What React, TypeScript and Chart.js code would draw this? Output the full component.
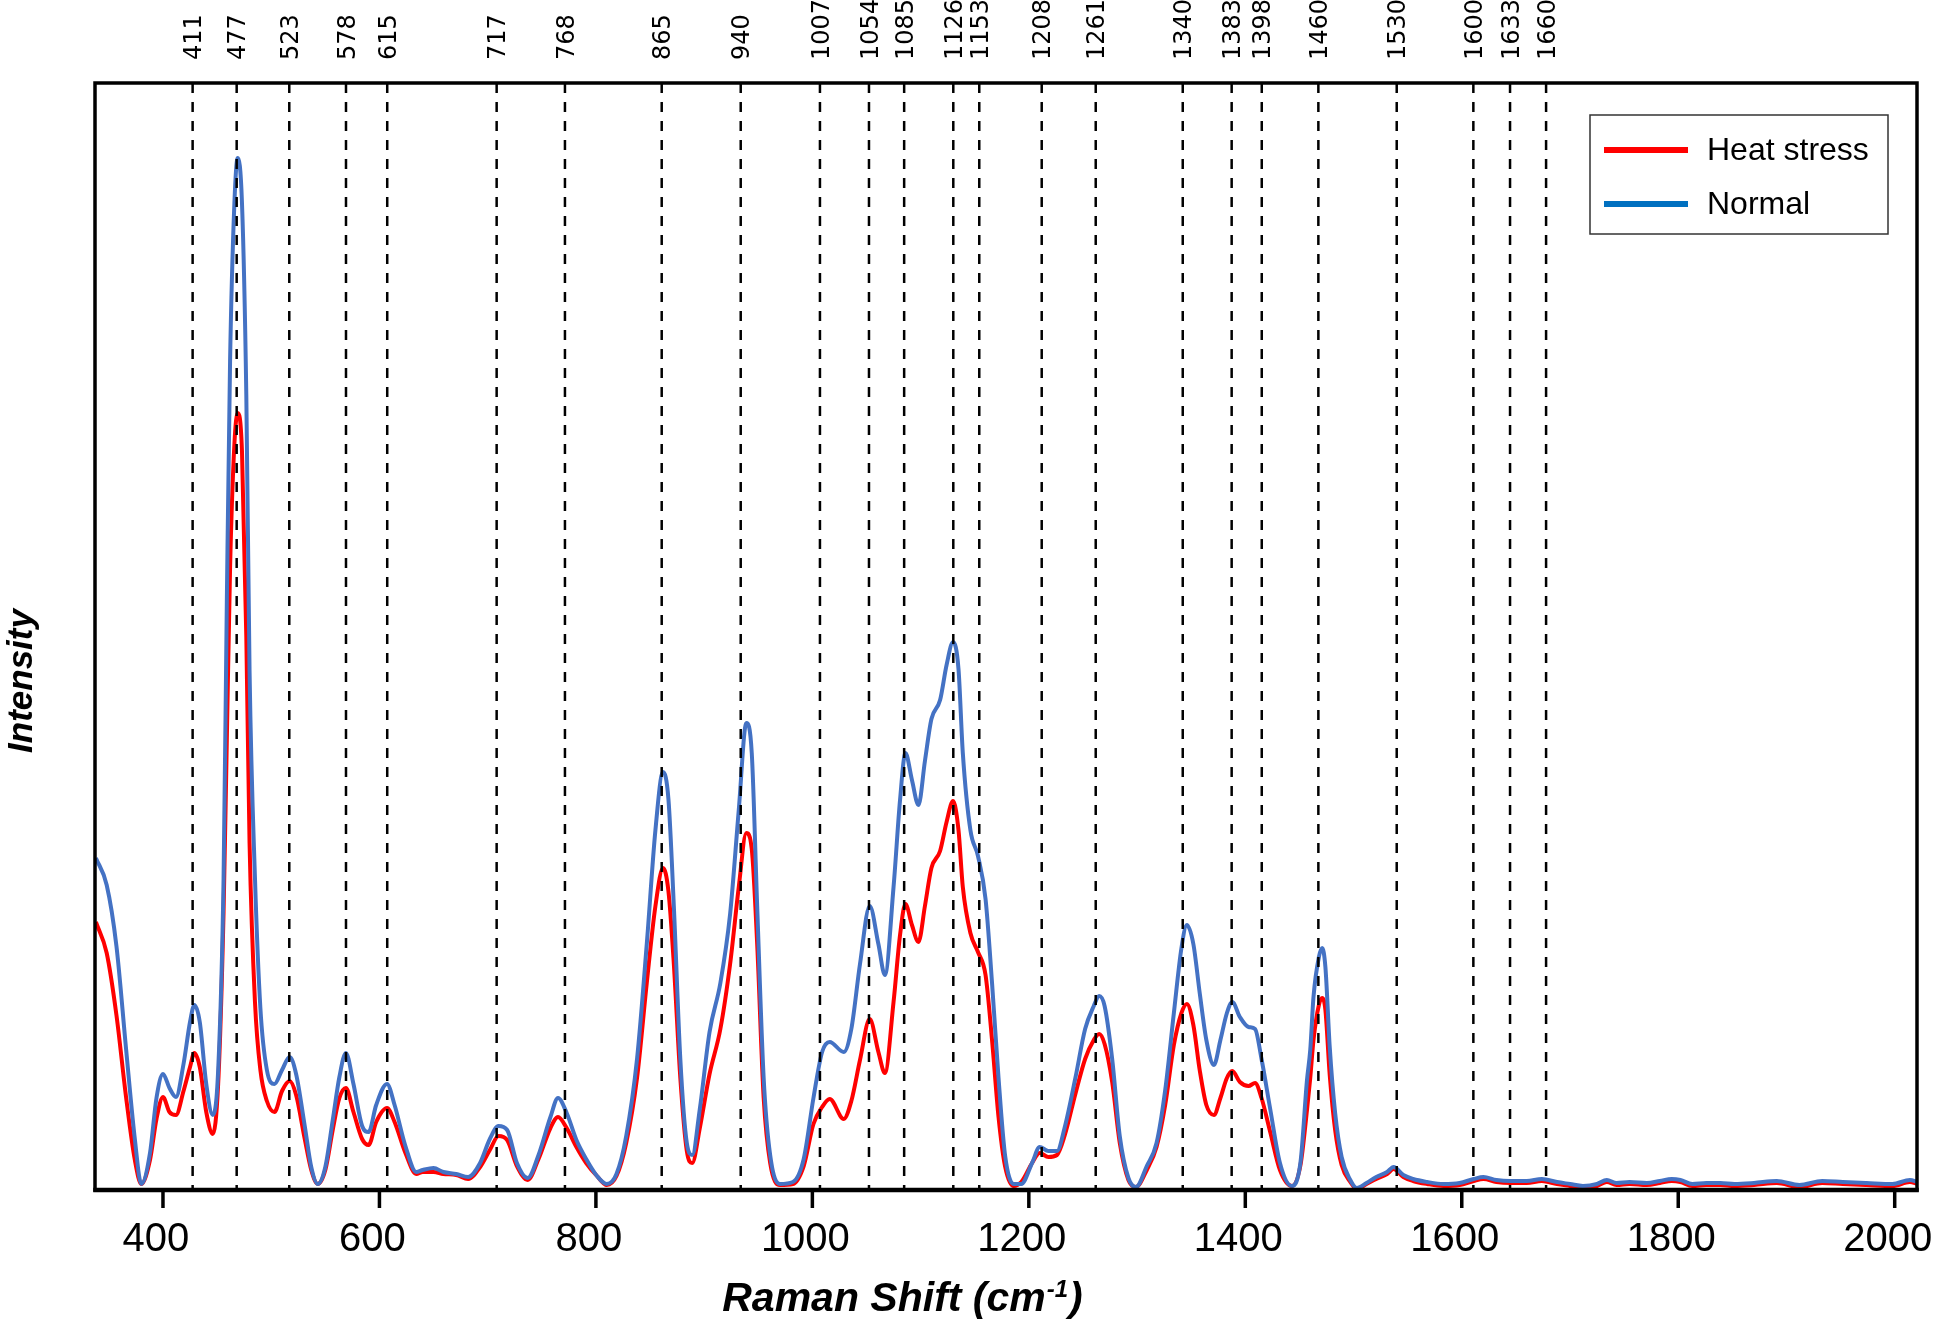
import React, { useEffect, useRef } from "react";
import { Chart, registerables } from "chart.js";

Chart.register(...registerables);

// Raman shift (cm-1) sampling points
const wavenumber = [
  338, 348, 357, 366, 374, 380, 388, 394, 400, 406, 412, 419, 425, 429, 434, 440, 446, 451, 456, 459,
  462, 466, 469, 473, 477, 480, 485, 490, 496, 503, 510, 517, 523, 531, 537, 543, 550, 557, 563, 569,
  576, 584, 590, 597, 607, 614, 624, 634, 640, 650, 659, 671, 682, 693, 702, 710,
  718, 727, 737, 747, 758, 765, 773, 782, 791, 801, 810, 819, 828, 838, 847, 855, 862, 867, 872, 878,
  884, 889, 896, 905, 915, 924, 932, 939, 944, 949, 955, 961, 970, 982, 992, 1001, 1009, 1016, 1029, 1036,
  1044, 1053, 1061, 1067, 1075, 1081, 1086, 1092, 1098,
  1104, 1110, 1118, 1124, 1130, 1135, 1139, 1146, 1153, 1160, 1166, 1172, 1178, 1186, 1193, 1203, 1210, 1218, 1226, 1233,
  1243, 1252, 1260, 1265, 1270, 1277, 1284, 1292, 1299, 1309, 1318, 1326, 1334, 1341, 1346, 1352, 1358, 1364, 1371, 1377,
  1383, 1388, 1395, 1403, 1409, 1415, 1423, 1432, 1443, 1451, 1457, 1460, 1463, 1468, 1471, 1474, 1478, 1483, 1489, 1497,
  1503,
  1512, 1521, 1531, 1537, 1546, 1555, 1568, 1583, 1598, 1611, 1620, 1632, 1645, 1660, 1674, 1688, 1700, 1712, 1725, 1734,
  1743, 1755, 1771, 1783, 1794, 1802, 1813, 1826, 1839, 1852, 1870, 1891, 1912, 1933, 1952, 1974, 1998, 2014, 2021,
];

// Normal (blue) intensity, arbitrary units
const normal = [
  332, 305, 244, 140, 51, 6, 37, 92, 116, 102, 93, 126, 168, 185, 168, 106, 75, 120, 312, 588,
  829, 987, 1032, 987, 795, 519, 312, 182, 120, 106, 120, 133, 116, 64, 23, 6, 23, 71, 113, 137,
  106, 64, 58, 85, 106, 85, 44, 18, 20, 22, 18, 16, 13, 27, 51, 64,
  60, 27, 12, 35, 73, 92, 77, 50, 31, 14, 6, 16, 54, 131, 246, 360, 418, 391, 284, 131,
  47, 35, 81, 158, 207, 276, 380, 467, 437, 284, 112, 35, 6, 8, 31, 92, 138, 148, 138, 161,
  226, 284, 246, 215, 303, 390, 437, 410, 385,
  429, 471, 490, 525, 548, 521, 437, 360, 334, 291, 207, 112, 35, 6, 6, 27, 43, 39, 39, 62,
  112, 161, 184, 194, 184, 131, 54, 12, 3, 24, 47, 100, 177, 242, 265, 246, 196, 150, 125, 150,
  177, 188, 173, 163, 161, 131, 81, 27, 4, 28, 110, 140, 193, 233, 242, 223, 143, 77, 33, 10,
  2,
  7, 13, 18, 23, 15, 11, 8, 6, 7, 11, 13, 10, 9, 9, 11, 8, 6, 4, 6, 10,
  7, 8, 7, 9, 11, 10, 6, 7, 7, 6, 7, 9, 5, 9, 8, 7, 6, 10, 8,
];

// Heat stress (red) intensity, arbitrary units
const heatStress = [
  268, 237, 175, 92, 30, 6, 30, 71, 93, 78, 75, 99, 123, 137, 123, 78, 56, 106, 278, 450,
  622, 746, 777, 739, 553, 347, 188, 120, 89, 78, 99, 109, 95, 51, 20, 6, 20, 61, 92, 102,
  78, 51, 45, 68, 82, 68, 37, 16, 18, 18, 16, 15, 11, 23, 40, 54,
  50, 24, 10, 31, 62, 73, 62, 43, 27, 14, 5, 14, 47, 112, 207, 284, 322, 299, 226, 112,
  39, 27, 62, 116, 161, 226, 303, 357, 341, 246, 92, 27, 5, 6, 24, 66, 83, 91, 71, 89,
  130, 171, 138, 117, 188, 255, 286, 265, 248,
  284, 322, 339, 368, 389, 360, 303, 257, 238, 215, 150, 73, 24, 4, 8, 27, 37, 33, 35, 54,
  96, 131, 150, 156, 146, 108, 47, 10, 3, 20, 43, 85, 145, 177, 186, 165, 119, 85, 75, 92,
  112, 119, 108, 104, 107, 92, 58, 20, 4, 25, 80, 112, 150, 185, 192, 180, 115, 60, 25, 8,
  1,
  6, 11, 16, 21, 13, 9, 6, 4, 5, 9, 11, 8, 7, 7, 9, 6, 4, 2, 4, 8,
  5, 6, 5, 7, 9, 8, 4, 5, 5, 4, 5, 7, 3, 7, 6, 5, 4, 8, 6,
];

// Dashed peak markers: label text and where the line is drawn (cm-1)
const markerLabels = [
  "411", "477", "523", "578", "615", "717", "768", "865", "940", "1007", "1054", "1085",
  "1126", "1153", "1208", "1261", "1340", "1383", "1398", "1460", "1530", "1600", "1633", "1660",
];
const markerPositions = [
  427.4, 468.1, 516.7, 569.1, 607.2, 708.3, 771.4, 860.8, 933.8, 1007, 1052.3, 1084.8,
  1130.2, 1154.2, 1211.9, 1261.8, 1342.2, 1387.4, 1415.2, 1467.5, 1539.9, 1610.7, 1644.6, 1677.9,
];

const xTickValues = [400, 600, 800, 1000, 1200, 1400, 1600, 1800, 2000];
const seriesNames = ["Heat stress", "Normal"];
const xTitleMain = "Raman Shift (cm";
const xTitleSup = "-1";
const xTitleEnd = ")";
const yTitle = "Intensity";

const SANS = "'Liberation Sans', Arial, sans-serif";

const overlayPlugin = {
  id: "overlayPlugin",
  afterDatasetsDraw(chart: any) {
    const { ctx, chartArea: a, scales } = chart;
    const xs = scales.x;
    ctx.save();

    // dashed vertical marker lines
    ctx.strokeStyle = "#000";
    ctx.lineWidth = 2.5;
    ctx.setLineDash([10, 9]);
    markerPositions.forEach((v) => {
      const px = xs.getPixelForValue(v);
      ctx.beginPath();
      ctx.moveTo(px, a.top);
      ctx.lineTo(px, a.bottom);
      ctx.stroke();
    });
    ctx.setLineDash([]);

    // rotated marker labels above the frame
    ctx.fillStyle = "#000";
    ctx.font = "24px 'DejaVu Sans', sans-serif";
    ctx.textAlign = "left";
    ctx.textBaseline = "alphabetic";
    markerPositions.forEach((v, i) => {
      const px = xs.getPixelForValue(v);
      ctx.save();
      ctx.translate(px + 8.6, 60);
      ctx.rotate(-Math.PI / 2);
      ctx.fillText(markerLabels[i], 0, 0);
      ctx.restore();
    });

    // frame
    ctx.strokeStyle = "#000";
    ctx.lineWidth = 3.5;
    ctx.strokeRect(a.left, a.top, a.right - a.left, a.bottom - a.top);
    // heavier bottom axis line
    ctx.lineWidth = 4.5;
    ctx.beginPath();
    ctx.moveTo(a.left - 1.75, a.bottom);
    ctx.lineTo(a.right + 1.75, a.bottom);
    ctx.stroke();

    // x tick marks below the axis
    ctx.lineWidth = 3.5;
    xTickValues.forEach((v) => {
      const px = xs.getPixelForValue(v);
      if (px < a.left || px > a.right) return;
      ctx.beginPath();
      ctx.moveTo(px, a.bottom);
      ctx.lineTo(px, a.bottom + 18);
      ctx.stroke();
    });

    // legend
    const lx = 1590, ly = 115, lw = 298, lh = 119;
    ctx.fillStyle = "#fff";
    ctx.fillRect(lx, ly, lw, lh);
    ctx.strokeStyle = "#333";
    ctx.lineWidth = 1.5;
    ctx.strokeRect(lx, ly, lw, lh);
    const legendColors = ["#FF0000", "#0070C0"];
    const rowsY = [150, 204];
    seriesNames.forEach((name, i) => {
      ctx.strokeStyle = legendColors[i];
      ctx.lineWidth = 6;
      ctx.beginPath();
      ctx.moveTo(1604, rowsY[i]);
      ctx.lineTo(1688, rowsY[i]);
      ctx.stroke();
      ctx.fillStyle = "#000";
      ctx.font = `32px ${SANS}`;
      ctx.textAlign = "left";
      ctx.textBaseline = "middle";
      ctx.fillText(name, 1707, rowsY[i] + 1);
    });

    // x axis title with superscript
    ctx.fillStyle = "#000";
    ctx.textBaseline = "alphabetic";
    ctx.textAlign = "left";
    const mainFont = `italic bold 41px ${SANS}`;
    const supFont = `italic bold 24px ${SANS}`;
    ctx.font = mainFont;
    const w1 = ctx.measureText(xTitleMain).width;
    const w3 = ctx.measureText(xTitleEnd).width;
    ctx.font = supFont;
    const w2 = ctx.measureText(xTitleSup).width;
    const total = w1 + w2 + w3 + 2;
    let sx = 902.5 - total / 2;
    const base = 1311;
    ctx.font = mainFont;
    ctx.fillText(xTitleMain, sx, base);
    sx += w1 + 1;
    ctx.font = supFont;
    ctx.fillText(xTitleSup, sx, base - 14);
    sx += w2 + 1;
    ctx.font = mainFont;
    ctx.fillText(xTitleEnd, sx, base);

    // y axis title
    ctx.save();
    ctx.translate(22, 681);
    ctx.rotate(-Math.PI / 2);
    ctx.font = `italic bold 35px ${SANS}`;
    ctx.textAlign = "center";
    ctx.textBaseline = "middle";
    ctx.fillText(yTitle, 0, 0);
    ctx.restore();

    ctx.restore();
  },
};

export default function App() {
  const canvasRef = useRef<HTMLCanvasElement | null>(null);

  useEffect(() => {
    if (!canvasRef.current) return;
    const chart = new Chart(canvasRef.current, {
      type: "line",
      data: {
        datasets: [
          {
            label: seriesNames[1],
            data: wavenumber.map((x, i) => ({ x, y: normal[i] })),
            borderColor: "#4472C4",
            borderWidth: 4,
            pointRadius: 0,
            fill: false,
            cubicInterpolationMode: "monotone",
          },
          {
            label: seriesNames[0],
            data: wavenumber.map((x, i) => ({ x, y: heatStress[i] })),
            borderColor: "#FF0000",
            borderWidth: 4,
            pointRadius: 0,
            fill: false,
            cubicInterpolationMode: "monotone",
          },
        ],
      },
      options: {
        animation: false,
        responsive: true,
        maintainAspectRatio: false,
        devicePixelRatio: 1,
        layout: { padding: { left: 95, right: 32, top: 83, bottom: 0 } },
        plugins: {
          legend: { display: false },
          tooltip: { enabled: false },
        },
        scales: {
          x: {
            type: "linear",
            min: 337.2,
            max: 2020.6,
            afterBuildTicks: (s: any) => {
              s.ticks = xTickValues.map((v) => ({ value: v }));
            },
            afterFit: (s: any) => {
              s.height = 139;
            },
            border: { display: false },
            grid: {
              display: false,
              drawOnChartArea: false,
              drawTicks: true,
              tickLength: 18,
            },
            ticks: {
              color: "#000",
              font: { family: SANS, size: 40 },
              padding: 8,
              labelOffset: -7,
              maxRotation: 0,
              autoSkip: false,
              callback: (v: any) => String(v),
            },
          },
          y: {
            display: false,
            min: 0,
            max: 1107,
          },
        },
      },
      plugins: [overlayPlugin],
    });
    return () => chart.destroy();
  }, []);

  return (
    <div
      style={{
        position: "fixed",
        left: 0,
        top: 0,
        width: 1949,
        height: 1329,
        background: "#fff",
      }}
    >
      <canvas ref={canvasRef} />
    </div>
  );
}
